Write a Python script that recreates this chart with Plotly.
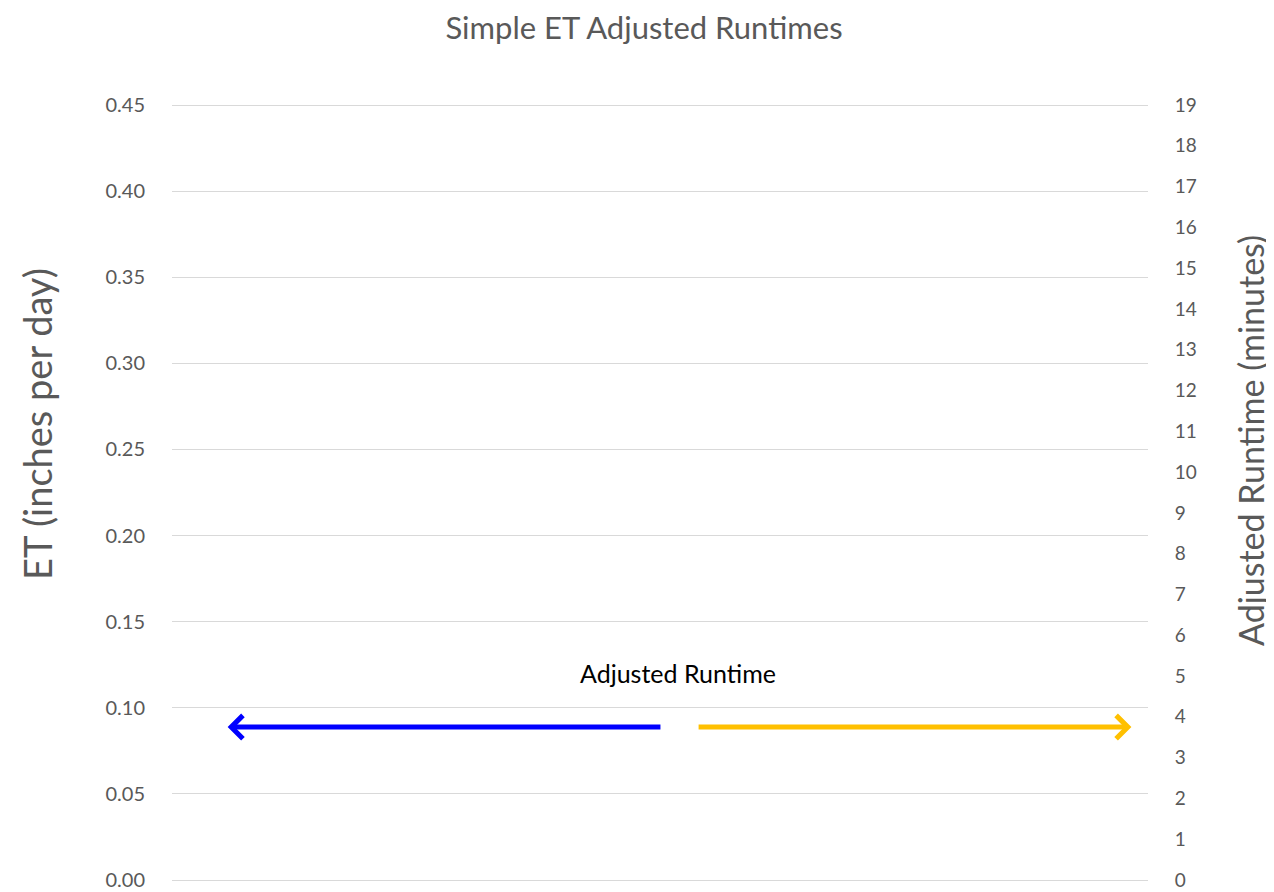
import plotly.graph_objects as go

# Axis ticks
et_ticks = [0.00, 0.05, 0.10, 0.15, 0.20, 0.25, 0.30, 0.35, 0.40, 0.45]
et_labels = ["0.00", "0.05", "0.10", "0.15", "0.20", "0.25", "0.30", "0.35", "0.40", "0.45"]
runtime_ticks = list(range(0, 20))

# Arrows (x as fraction of the plot width, y on the ET axis)
arrow_names = ["decrease", "increase"]
arrow_tail_x = [0.502, 0.538]
arrow_tip_x = [0.057, 0.983]
arrow_y = [0.0888, 0.0888]
arrow_colors = ["#0000FF", "#FFC000"]

label_text = "Adjusted Runtime"
label_x = 0.518
label_y = 0.120

# page offset (browser body margin)
OFF = 8
W, H = 1274 - OFF, 892 - OFF
# desired screen positions of plot data edges
x_left, x_right = 172, 1148
y_top, y_bot = 105, 880
et_max, rt_max = 0.45, 19.0
pad_px = 3.0
ppu = (y_bot - y_top) / et_max
pad = pad_px / ppu
L = x_left - OFF
R = (1274 - x_right)
T = y_top - pad_px - OFF
B = H - (y_bot + pad_px - OFF)
pw, ph = W - L - R, H - T - B

def sx(x):
    return (x - OFF - L) / pw

def sy(y):
    return (H - B - (y - OFF)) / ph

font_fam = "Lato, Carlito, sans-serif"

fig = go.Figure()
fig.add_trace(go.Scatter(x=[0, 1], y=[None, None], yaxis="y", showlegend=False, hoverinfo="skip"))
fig.add_trace(go.Scatter(x=[0, 1], y=[None, None], yaxis="y2", showlegend=False, hoverinfo="skip"))

for tx, hx, yy, c in zip(arrow_tail_x, arrow_tip_x, arrow_y, arrow_colors):
    fig.add_annotation(x=hx, y=yy, ax=tx, ay=yy, xref="x", yref="y", axref="x", ayref="y",
                       text="", showarrow=True, arrowhead=4, arrowsize=0.9, arrowwidth=5,
                       arrowcolor=c)

fig.add_annotation(x=label_x, y=label_y, xref="x", yref="y", text=label_text, showarrow=False,
                   font=dict(family=font_fam, size=25, color="#000000"))

rt_pad = pad * rt_max / et_max
fig.update_layout(
    width=W, height=H,
    margin=dict(l=L, r=R, t=T, b=B, autoexpand=False),
    paper_bgcolor="white", plot_bgcolor="white",
    title=dict(text="Simple ET Adjusted Runtimes", x=(644 - OFF) / W, xanchor="center", xref="container",
               y=1 - (28 - OFF) / H, yanchor="middle", yref="container",
               font=dict(family=font_fam, size=31, color="#595959")),
    xaxis=dict(range=[0, 1], visible=False, showgrid=False, zeroline=False),
    yaxis=dict(range=[-pad, et_max + pad], tickvals=et_ticks, ticktext=et_labels, automargin=False,
               showgrid=True, gridcolor="#D9D9D9", gridwidth=1.3, zeroline=False,
               ticks="outside", ticklen=22, tickcolor="rgba(0,0,0,0)",
               tickfont=dict(family=font_fam, size=20, color="#595959"), showline=False),
    yaxis2=dict(range=[-rt_pad, rt_max + rt_pad], tickvals=runtime_ticks,
                overlaying="y", side="right", automargin=False,
                showgrid=False, zeroline=False, ticks="outside", ticklen=22,
                tickcolor="rgba(0,0,0,0)",
                tickfont=dict(family=font_fam, size=19, color="#595959"), showline=False),
    showlegend=False,
)

fig.add_annotation(x=sx(37), y=sy(424), xref="paper", yref="paper", text="ET (inches per day)",
                   textangle=-90, showarrow=False, xanchor="center", yanchor="middle",
                   font=dict(family=font_fam, size=38, color="#595959"))
fig.add_annotation(x=sx(1250), y=sy(441), xref="paper", yref="paper",
                   text="Adjusted Runtime (minutes)", textangle=-90, showarrow=False,
                   xanchor="center", yanchor="middle",
                   font=dict(family=font_fam, size=34, color="#595959"))

fig.write_html("out.html")
